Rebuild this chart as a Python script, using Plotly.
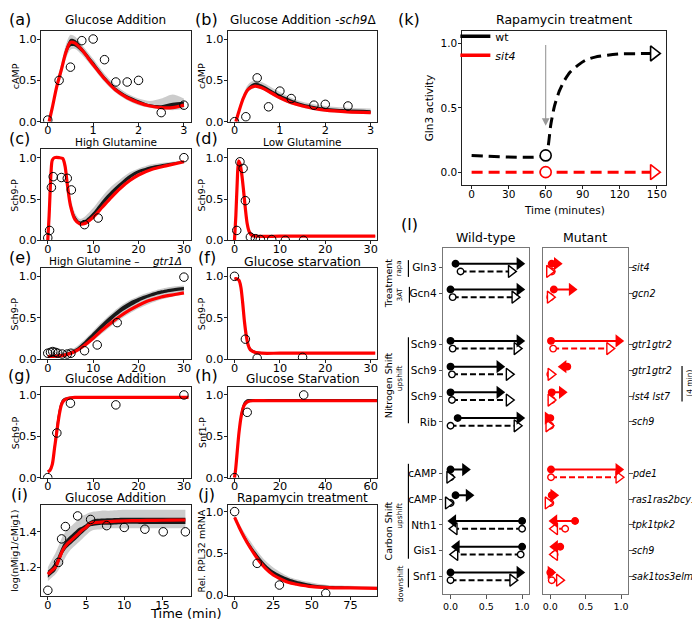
import plotly.graph_objects as go

W, H = 700, 622
FONT = "DejaVu Sans"
RED = "#ff0000"

# ---------------- data: left panels (a)-(j) ----------------
a_t = [0.03, 0.1, 0.2, 0.3, 0.4, 0.5, 0.6, 0.75, 1.0, 1.25, 1.5, 1.75, 2.0, 2.25, 2.5, 2.75, 3.0]
a_fit = [0.0, 0.17, 0.43, 0.63, 0.84, 0.96, 0.95, 0.87, 0.69, 0.52, 0.38, 0.29, 0.23, 0.19, 0.17, 0.17, 0.2]
a_lo = [0.0, 0.15, 0.4, 0.6, 0.8, 0.91, 0.91, 0.84, 0.67, 0.5, 0.37, 0.28, 0.22, 0.18, 0.16, 0.16, 0.18]
a_hi = [0.0, 0.19, 0.46, 0.67, 0.89, 1.0, 0.99, 0.9, 0.73, 0.55, 0.41, 0.32, 0.26, 0.21, 0.2, 0.23, 0.24]
a_lo2 = [0.0, 0.13, 0.37, 0.56, 0.76, 0.87, 0.88, 0.81, 0.65, 0.48, 0.35, 0.26, 0.2, 0.17, 0.15, 0.14, 0.15]
a_hi2 = [0.0, 0.21, 0.49, 0.71, 0.93, 1.05, 1.03, 0.93, 0.76, 0.58, 0.44, 0.34, 0.28, 0.25, 0.28, 0.33, 0.28]
a_obs_t = [0, 0.25, 0.5, 0.75, 1.0, 1.25, 1.5, 1.75, 2.0, 2.5, 3.0]
a_obs = [0.02, 0.5, 0.66, 0.98, 1.0, 0.75, 0.48, 0.48, 0.5, 0.11, 0.2]

b_t = [0.03, 0.1, 0.2, 0.3, 0.45, 0.6, 0.8, 1.0, 1.25, 1.5, 1.75, 2.0, 2.5, 3.0]
b_fit = [0.0, 0.13, 0.29, 0.39, 0.43, 0.41, 0.35, 0.29, 0.23, 0.19, 0.16, 0.14, 0.12, 0.11]
b_lo = [0.0, 0.12, 0.28, 0.38, 0.42, 0.4, 0.34, 0.28, 0.22, 0.18, 0.15, 0.13, 0.11, 0.1]
b_hi = [0.0, 0.15, 0.32, 0.42, 0.47, 0.45, 0.39, 0.33, 0.27, 0.22, 0.19, 0.17, 0.15, 0.14]
b_lo2 = [0.0, 0.11, 0.26, 0.36, 0.41, 0.39, 0.33, 0.27, 0.21, 0.17, 0.14, 0.12, 0.1, 0.09]
b_hi2 = [0.0, 0.17, 0.34, 0.45, 0.5, 0.48, 0.42, 0.36, 0.29, 0.24, 0.21, 0.19, 0.17, 0.16]
b_obs_t = [0, 0.25, 0.5, 0.75, 1.0, 1.25, 1.75, 2.0, 2.5]
b_obs = [0.0, 0.06, 0.53, 0.18, 0.37, 0.28, 0.2, 0.21, 0.19]

c_t = [0, 0.3, 0.7, 1.0, 1.5, 2.5, 3.3, 3.8, 4.3, 5.0, 6.0, 7.0, 8.0, 10, 12, 14, 16, 18, 20, 23, 26, 30]
c_fit = [0, 0.3, 0.8, 0.97, 1.0, 1.0, 0.99, 0.9, 0.68, 0.42, 0.25, 0.2, 0.2, 0.28, 0.4, 0.52, 0.63, 0.72, 0.79, 0.86, 0.9, 0.95]
c_lo = [0, 0.3, 0.8, 0.97, 1.0, 1.0, 0.99, 0.9, 0.7, 0.44, 0.26, 0.2, 0.2, 0.29, 0.42, 0.54, 0.65, 0.74, 0.81, 0.87, 0.91, 0.95]
c_hi = [0, 0.3, 0.8, 0.97, 1.0, 1.0, 0.99, 0.93, 0.74, 0.48, 0.3, 0.23, 0.24, 0.34, 0.48, 0.6, 0.7, 0.79, 0.85, 0.9, 0.93, 0.96]
c_lo2 = [0, 0.3, 0.8, 0.97, 1.0, 1.0, 0.99, 0.89, 0.68, 0.42, 0.25, 0.19, 0.19, 0.27, 0.4, 0.52, 0.63, 0.72, 0.79, 0.86, 0.9, 0.94]
c_hi2 = [0, 0.3, 0.8, 0.97, 1.0, 1.0, 0.99, 0.94, 0.77, 0.52, 0.33, 0.26, 0.28, 0.39, 0.53, 0.65, 0.74, 0.82, 0.87, 0.92, 0.94, 0.97]
c_obs_t = [0, 0.4, 0.8, 1.2, 3.0, 4.3, 5.2, 8.1, 11.1, 30]
c_obs = [0.03, 0.12, 0.64, 0.77, 0.76, 0.75, 0.61, 0.19, 0.27, 1.0]

d_t = [0, 0.3, 0.6, 0.9, 1.2, 1.6, 2.0, 2.4, 2.8, 3.2, 3.8, 5, 10, 20, 31]
d_fit = [0, 0.3, 0.7, 0.96, 0.93, 0.8, 0.6, 0.38, 0.2, 0.11, 0.06, 0.05, 0.05, 0.05, 0.05]
d_lo = [0, 0.29, 0.69, 0.95, 0.92, 0.79, 0.59, 0.37, 0.19, 0.1, 0.055, 0.045, 0.045, 0.045, 0.045]
d_hi = [0, 0.31, 0.72, 0.97, 0.95, 0.82, 0.63, 0.41, 0.23, 0.13, 0.07, 0.06, 0.06, 0.06, 0.06]
d_obs_t = [0.5, 1.2, 1.9, 2.4, 3.5, 4.6, 5.7, 8.2, 11.2, 15.2]
d_obs = [0.12, 0.95, 0.87, 0.48, 0.04, 0.02, 0.01, 0.01, 0.0, 0.0]

e_t = [0, 2, 4, 6, 8, 10, 12, 14, 16, 18, 20, 22, 25, 28, 30]
e_fit = [0.03, 0.035, 0.05, 0.09, 0.16, 0.25, 0.35, 0.44, 0.52, 0.59, 0.65, 0.7, 0.75, 0.78, 0.8]
e_lo = [0.03, 0.035, 0.05, 0.09, 0.17, 0.27, 0.37, 0.47, 0.56, 0.63, 0.69, 0.74, 0.79, 0.82, 0.83]
e_hi = [0.04, 0.05, 0.07, 0.12, 0.21, 0.32, 0.43, 0.53, 0.62, 0.69, 0.74, 0.78, 0.83, 0.86, 0.87]
e_lo2 = [0.03, 0.03, 0.04, 0.08, 0.14, 0.22, 0.31, 0.4, 0.48, 0.55, 0.61, 0.66, 0.72, 0.76, 0.78]
e_hi2 = [0.05, 0.06, 0.09, 0.14, 0.23, 0.34, 0.45, 0.55, 0.64, 0.71, 0.76, 0.8, 0.85, 0.88, 0.89]
e_obs_t = [0, 0.6, 1.1, 1.7, 2.2, 3.2, 4.3, 5.1, 8.1, 10.9, 15.3, 30]
e_obs = [0.07, 0.08, 0.09, 0.08, 0.07, 0.06, 0.06, 0.07, 0.1, 0.17, 0.44, 0.99]

f_t = [0, 0.5, 1.0, 1.4, 1.8, 2.2, 2.6, 3.0, 3.5, 4.5, 6, 10, 20, 31]
f_fit = [0.97, 0.97, 0.95, 0.87, 0.68, 0.45, 0.28, 0.17, 0.11, 0.08, 0.07, 0.07, 0.07, 0.07]
f_lo = [0.96, 0.96, 0.94, 0.86, 0.67, 0.44, 0.27, 0.16, 0.1, 0.075, 0.07, 0.07, 0.07, 0.07]
f_hi = [0.98, 0.98, 0.97, 0.9, 0.74, 0.52, 0.34, 0.22, 0.14, 0.1, 0.085, 0.08, 0.08, 0.08]
f_obs_t = [0, 2.4, 5.0, 15]
f_obs = [1.0, 0.24, 0.01, 0.02]

g_t = [0, 0.5, 1.0, 1.5, 2.0, 2.5, 3.0, 3.5, 4.5, 6, 10, 20, 31]
g_fit = [0.07, 0.09, 0.16, 0.36, 0.56, 0.75, 0.88, 0.93, 0.96, 0.97, 0.97, 0.97, 0.97]
g_lo = [0.07, 0.09, 0.17, 0.38, 0.6, 0.78, 0.9, 0.94, 0.96, 0.97, 0.97, 0.97, 0.97]
g_hi = [0.08, 0.11, 0.22, 0.46, 0.68, 0.84, 0.93, 0.96, 0.975, 0.98, 0.98, 0.98, 0.98]
g_obs_t = [0, 2, 5, 15, 30]
g_obs = [0.0, 0.54, 0.9, 0.88, 1.0]

h_t = [0, 0.5, 1, 2, 3, 4, 5, 6, 8, 15, 30, 45, 63]
h_fit = [0, 0.1, 0.25, 0.55, 0.75, 0.86, 0.9, 0.92, 0.93, 0.93, 0.93, 0.93, 0.93]
h_lo = [0, 0.1, 0.25, 0.55, 0.75, 0.86, 0.9, 0.92, 0.93, 0.93, 0.93, 0.93, 0.93]
h_hi = [0, 0.12, 0.3, 0.62, 0.82, 0.91, 0.94, 0.95, 0.95, 0.95, 0.95, 0.95, 0.95]
h_obs_t = [0, 5.6, 30.5]
h_obs = [0.0, 0.79, 1.0]

i_t = [0, 0.5, 1, 1.5, 2, 2.5, 3, 3.5, 4, 4.5, 5, 5.5, 6, 7, 8, 10, 12, 14, 16, 18]
i_fit = [1.16, 1.18, 1.2, 1.25, 1.3, 1.33, 1.35, 1.37, 1.39, 1.41, 1.425, 1.445, 1.452, 1.455, 1.458, 1.462, 1.464, 1.465, 1.466, 1.467]
i_lo = [1.14, 1.16, 1.18, 1.23, 1.28, 1.31, 1.33, 1.35, 1.37, 1.39, 1.41, 1.43, 1.435, 1.44, 1.44, 1.445, 1.445, 1.445, 1.445, 1.445]
i_hi = [1.18, 1.2, 1.23, 1.28, 1.33, 1.36, 1.38, 1.4, 1.42, 1.43, 1.445, 1.46, 1.47, 1.475, 1.477, 1.48, 1.48, 1.48, 1.48, 1.48]
i_lo2 = [1.12, 1.14, 1.16, 1.19, 1.23, 1.27, 1.3, 1.32, 1.34, 1.36, 1.38, 1.4, 1.41, 1.415, 1.42, 1.42, 1.42, 1.42, 1.42, 1.42]
i_hi2 = [1.2, 1.24, 1.28, 1.33, 1.38, 1.41, 1.43, 1.45, 1.47, 1.49, 1.5, 1.51, 1.515, 1.52, 1.52, 1.525, 1.525, 1.525, 1.525, 1.525]
i_obs_t = [0, 1.4, 1.8, 2.3, 3.9, 5.6, 7.7, 10.0, 12.7, 15.1, 18.0]
i_obs = [1.069, 1.227, 1.36, 1.43, 1.49, 1.47, 1.435, 1.425, 1.415, 1.40, 1.40]

j_t = [0, 3, 6, 10, 15, 20, 25, 30, 35, 40, 50, 60, 75, 93]
j_fit = [0.93, 0.81, 0.7, 0.57, 0.43, 0.32, 0.24, 0.19, 0.15, 0.13, 0.1, 0.09, 0.085, 0.08]
j_lo = [0.92, 0.8, 0.69, 0.56, 0.42, 0.32, 0.24, 0.19, 0.15, 0.13, 0.1, 0.09, 0.085, 0.08]
j_hi = [0.94, 0.83, 0.73, 0.61, 0.48, 0.37, 0.29, 0.24, 0.2, 0.17, 0.13, 0.11, 0.1, 0.095]
j_lo2 = [0.92, 0.79, 0.68, 0.55, 0.41, 0.31, 0.23, 0.18, 0.145, 0.125, 0.095, 0.085, 0.08, 0.075]
j_hi2 = [0.95, 0.85, 0.76, 0.65, 0.52, 0.41, 0.33, 0.27, 0.22, 0.19, 0.15, 0.12, 0.11, 0.1]
j_obs_t = [0, 14.6, 29, 59]
j_obs = [1.0, 0.38, 0.12, 0.02]

# ---------------- data: panel (k) ----------------
k_t = [0, 60, 62, 64, 67, 71, 75, 80, 86, 92, 100, 110, 120, 135, 150]
k_wt = [0.13, 0.13, 0.2, 0.36, 0.51, 0.63, 0.71, 0.78, 0.83, 0.87, 0.895, 0.91, 0.92, 0.922, 0.923]
k_sit4_t = [0, 60, 150]
k_sit4 = [0.0, 0.0, 0.0]
k_rapa_time = 60

# ---------------- data: panel (l) ----------------
group_sizes = [2, 4, 5]
wt_labels = ["Gln3", "Gcn4", "Sch9", "Sch9", "Sch9", "Rib", "cAMP", "cAMP", "Nth1", "Gis1", "Snf1"]
mut_labels = ["sit4", "gcn2", "gtr1gtr2", "gtr1gtr2", "lst4 lst7", "sch9",
              "pde1", "ras1ras2bcy1", "tpk1tpk2", "sch9", "sak1tos3elm1"]
wt_solid_start = [0.07, 0.0, 0.0, 0.0, 0.0, 0.1, 0.0, 0.07, 1.0, 1.0, 0.0]
wt_solid_end = [1.0, 1.0, 1.0, 0.72, 0.72, 1.0, 0.24, 0.29, 0.0, 0.05, 1.0]
wt_dash_start = [0.14, 0.03, 0.03, 0.02, 0.02, 0.0, 0.0, 0.0, 1.0, 0.98, 0.0]
wt_dash_end = [0.88, 0.93, 0.96, 0.85, 0.85, 0.96, 0.02, 0.0, 0.02, 0.03, 0.9]
mut_solid_start = [0.02, 0.05, 0.01, 0.24, 0.02, 0.0, 0.01, 0.02, 0.35, 0.14, 0.0]
mut_solid_end = [0.13, 0.34, 1.0, 0.15, 0.2, 0.0, 1.0, 0.08, 0.02, 0.03, 0.04]
mut_dash_start = [0.02, 0.0, 0.04, 0.0, 0.02, 0.0, 0.01, 0.0, 0.21, 0.06, 0.02]
mut_dash_end = [0.02, 0.03, 0.87, 0.04, 0.04, 0.01, 1.0, 0.0, 0.03, 0.03, 0.16]

# ---------------- figure ----------------
fig = go.Figure()
layout = {}


def nm(n, k):
    return k + ("" if n == 1 else str(n))


def xdom(l, r):
    return [l / W, r / W]


def ydom(t, b):
    return [1 - b / H, 1 - t / H]


def ann(text, px, py, size, xanchor="center", yanchor="middle", **kw):
    fig.add_annotation(x=px / W, y=1 - py / H, xref="paper", yref="paper", text=text,
                       showarrow=False, xanchor=xanchor, yanchor=yanchor,
                       font=dict(size=size, family=FONT, color="black"), **kw)


axis_common = dict(showgrid=False, zeroline=False, showline=True, mirror=True, linecolor="#222",
                   linewidth=0.9, ticks="outside", ticklen=3, tickwidth=0.9, tickcolor="#222",
                   tickfont=dict(size=11.3, family=FONT, color="black"))

NB = "\u00a0"
left = [
    dict(t=a_t, fit=a_fit, lo=a_lo, hi=a_hi, lo2=a_lo2, hi2=a_hi2, ot=a_obs_t, ob=a_obs,
         xr=[-0.15, 3.15], yr=[0, 1.1], xt=[0, 1, 2, 3], yt=[0, 0.5, 1.0],
         title="Glucose Addition", ts=12, tpy=12, lab="(a)", ylab="cAMP"),
    dict(t=b_t, fit=b_fit, lo=b_lo, hi=b_hi, lo2=b_lo2, hi2=b_hi2, ot=b_obs_t, ob=b_obs,
         xr=[-0.15, 3.15], yr=[0, 1.1], xt=[0, 1, 2, 3], yt=[0, 0.5, 1.0],
         title="Glucose Addition -<i>sch9</i>Δ", ts=12, tpy=12, lab="(b)", ylab="cAMP"),
    dict(t=c_t, fit=c_fit, lo=c_lo, hi=c_hi, lo2=c_lo2, hi2=c_hi2, ot=c_obs_t, ob=c_obs,
         xr=[-1.5, 31.5], yr=[0, 1.1], xt=[0, 10, 20, 30], yt=[0, 0.5, 1.0],
         title="High Glutamine", ts=10.5, tpy=136, lab="(c)", ylab="Sch9-P"),
    dict(t=d_t, fit=d_fit, lo=d_lo, hi=d_hi, lo2=None, hi2=None, ot=d_obs_t, ob=d_obs,
         xr=[-1.5, 31.5], yr=[0, 1.1], xt=[0, 10, 20, 30], yt=[0, 0.5, 1.0],
         title="Low Glutamine", ts=10.5, tpy=136, lab="(d)", ylab="Sch9-P"),
    dict(t=e_t, fit=e_fit, lo=e_lo, hi=e_hi, lo2=e_lo2, hi2=e_hi2, ot=e_obs_t, ob=e_obs,
         xr=[-1.5, 31.5], yr=[0, 1.1], xt=[0, 10, 20, 30], yt=[0, 0.5, 1.0],
         title="High Glutamine –" + NB * 4 + "<i>gtr1Δ</i>", ts=10.5, tpy=256, lab="(e)", ylab="Sch9-P"),
    dict(t=f_t, fit=f_fit, lo=f_lo, hi=f_hi, lo2=None, hi2=None, ot=f_obs_t, ob=f_obs,
         xr=[-1.5, 31.5], yr=[0, 1.1], xt=[0, 10, 20, 30], yt=[0, 0.5, 1.0],
         title="Glucose starvation", ts=12.5, tpy=256, lab="(f)", ylab="Sch9-P"),
    dict(t=g_t, fit=g_fit, lo=g_lo, hi=g_hi, lo2=None, hi2=None, ot=g_obs_t, ob=g_obs,
         xr=[-1.5, 31.5], yr=[0, 1.1], xt=[0, 10, 20, 30], yt=[0, 0.5, 1.0],
         title="Glucose Addition", ts=12, tpy=375, lab="(g)", ylab="Sch9-P"),
    dict(t=h_t, fit=h_fit, lo=h_lo, hi=h_hi, lo2=None, hi2=None, ot=h_obs_t, ob=h_obs,
         xr=[-3, 63], yr=[0, 1.1], xt=[0, 20, 40, 60], yt=[0, 0.5, 1.0],
         title="Glucose Starvation", ts=12, tpy=375, lab="(h)", ylab="Snf1-P"),
    dict(t=i_t, fit=i_fit, lo=i_lo, hi=i_hi, lo2=i_lo2, hi2=i_hi2, ot=i_obs_t, ob=i_obs,
         xr=[-0.9, 18.7], yr=[1.035, 1.55], xt=[0, 5, 10, 15], yt=[1.2, 1.4],
         title="Glucose Addition", ts=12, tpy=496, lab="(i)", ylab="log(nMig1/cMig1)"),
    dict(t=j_t, fit=j_fit, lo=j_lo, hi=j_hi, lo2=j_lo2, hi2=j_hi2, ot=j_obs_t, ob=j_obs,
         xr=[-4.5, 92.5], yr=[-0.015, 1.075], xt=[0, 25, 50, 75], yt=[0, 0.5, 1.0],
         title="Rapamycin treatment", ts=12, tpy=496, lab="(j)", ylab="Rel. RPL32 mRNA"),
]

col_x = [(33, 183), (220, 370)]
for idx, p in enumerate(left):
    n = idx + 1
    col, row = idx % 2, idx // 2
    top = 23 + 120 * row
    xa, ya = nm(n, "x"), nm(n, "y")
    layout[nm(n, "xaxis")] = dict(axis_common, domain=xdom(*col_x[col]), anchor=ya, range=p["xr"],
                                  tickvals=p["xt"], ticklabelstandoff=-5)
    layout[nm(n, "yaxis")] = dict(axis_common, domain=ydom(top, top + 92), anchor=xa, range=p["yr"],
                                  tickvals=p["yt"], tickformat=".1f", ticklabelstandoff=-2)

    def band(lo, hi, color):
        fig.add_trace(go.Scatter(x=p["t"], y=lo, xaxis=xa, yaxis=ya, mode="lines",
                                 line=dict(width=0, shape="spline", smoothing=0.8),
                                 showlegend=False, hoverinfo="skip"))
        fig.add_trace(go.Scatter(x=p["t"], y=hi, xaxis=xa, yaxis=ya, mode="lines", fill="tonexty",
                                 fillcolor=color, line=dict(width=0, shape="spline", smoothing=0.8),
                                 showlegend=False, hoverinfo="skip"))

    if p["lo2"] is not None:
        band(p["lo2"], p["hi2"], "rgba(0,0,0,0.2)")
    band(p["lo"], p["hi"], "rgba(0,0,0,0.88)")
    fig.add_trace(go.Scatter(x=p["t"], y=p["fit"], xaxis=xa, yaxis=ya, mode="lines",
                             line=dict(color=RED, width=3.2, shape="spline", smoothing=0.8),
                             showlegend=False, hoverinfo="skip"))
    fig.add_trace(go.Scatter(x=p["ot"], y=p["ob"], xaxis=xa, yaxis=ya, mode="markers",
                             marker=dict(symbol="circle-open", size=8.5, color="black",
                                         line=dict(width=1, color="black")),
                             showlegend=False, hoverinfo="skip"))
    cx = (col_x[col][0] + col_x[col][1]) / 2
    ann(p["title"], cx, p["tpy"], p["ts"])
    ann(p["lab"], 12 if col == 0 else 199, top - 11, 16)
    ann(p["ylab"], 7 if col == 0 else 194, top + 46, 9.5, textangle=-90)

ann("Time (min)", 178, 612, 13)

# ---------------- panel (k) ----------------
nk = 11
xk, yk = nm(nk, "x"), nm(nk, "y")
k_axis = dict(axis_common, tickfont=dict(size=10.5, family=FONT, color="black"))
layout[nm(nk, "xaxis")] = dict(k_axis, domain=xdom(455, 659), anchor=yk, range=[-7.5, 157.5],
                               tickvals=[0, 30, 60, 90, 120, 150], ticklabelstandoff=-4)
layout[nm(nk, "yaxis")] = dict(k_axis, domain=ydom(23, 179), anchor=xk, range=[-0.1, 1.1],
                               tickvals=[0, 0.5, 1.0], tickformat=".1f", ticklabelstandoff=-1)
kdash = "11px,6px"
fig.add_trace(go.Scatter(x=k_t, y=k_wt, xaxis=xk, yaxis=yk, mode="lines",
                         line=dict(color="black", width=3, dash=kdash, shape="spline", smoothing=0.6),
                         showlegend=False, hoverinfo="skip"))
fig.add_trace(go.Scatter(x=k_sit4_t, y=k_sit4, xaxis=xk, yaxis=yk, mode="lines",
                         line=dict(color=RED, width=3, dash=kdash), showlegend=False, hoverinfo="skip"))
i60 = k_t.index(k_rapa_time)
j60 = k_sit4_t.index(k_rapa_time)
k_px_per = 204 / 165.0
tri_size_k = 13
shift_k = 0.457 * tri_size_k / 2 / k_px_per
for xs, ys, col in [([k_t[i60]], [k_wt[i60]], "black"), ([k_sit4_t[j60]], [k_sit4[j60]], RED)]:
    fig.add_trace(go.Scatter(x=xs, y=ys, xaxis=xk, yaxis=yk, mode="markers",
                             marker=dict(symbol="circle", size=11, color="white", line=dict(width=1.6, color=col)),
                             showlegend=False, hoverinfo="skip"))
for xs, ys, col in [([k_t[-1] - shift_k], [k_wt[-1]], "black"), ([k_sit4_t[-1] - shift_k], [k_sit4[-1]], RED)]:
    fig.add_trace(go.Scatter(x=xs, y=ys, xaxis=xk, yaxis=yk, mode="markers",
                             marker=dict(symbol="triangle-right", size=tri_size_k, color="white",
                                         line=dict(width=1.6, color=col)),
                             showlegend=False, hoverinfo="skip"))
fig.add_trace(go.Scatter(x=[None], y=[None], xaxis=xk, yaxis=yk, mode="lines", name="wt",
                         line=dict(color="black", width=3.5)))
fig.add_trace(go.Scatter(x=[None], y=[None], xaxis=xk, yaxis=yk, mode="lines", name="<i>sit4</i>",
                         line=dict(color=RED, width=3.5)))
fig.add_annotation(x=k_rapa_time, y=0.36, ax=k_rapa_time, ay=1.0, xref=xk, yref=yk, axref=xk, ayref=yk,
                   showarrow=True, arrowhead=2, arrowsize=1.4, arrowwidth=1.1, arrowcolor="#999999", text="")
ann("Rapamycin treatment", 557, 12, 12.5)
ann("(k)", 402, 12, 16)
ann("Time (minutes)", 557, 204, 10.5)
ann("Gln3 activity", 421, 101, 10.5, textangle=-90)

# ---------------- panel (l) ----------------
rows = []
r = 0
for gsz in group_sizes:
    for _ in range(gsz):
        rows.append(r)
        r += 1
    r += 1

l_axis = dict(showgrid=False, zeroline=False, showline=True, mirror=True, linecolor="#777",
              linewidth=1.3, ticks="outside", ticklen=3.5, tickwidth=1, tickcolor="#555",
              tickfont=dict(size=9.5, family=FONT, color="black"))
y_range = [12.7, -0.75]
for n, (l, rr), side, show in [(12, (436, 522), "left", True), (13, (536, 621), "right", False)]:
    layout[nm(n, "xaxis")] = dict(l_axis, domain=xdom(l, rr), anchor=nm(n, "y"), range=[-0.1, 1.1],
                                  tickvals=[0, 0.5, 1.0], tickformat=".1f")
    layout[nm(n, "yaxis")] = dict(l_axis, domain=ydom(243, 593), anchor=nm(n, "x"), range=y_range,
                                  tickvals=rows, ticktext=wt_labels, side=side, showticklabels=show,
                                  tickfont=dict(size=10.5, family=FONT, color="black"))
for lab, rw in zip(mut_labels, rows):
    fig.add_annotation(x=624 / W, xref="paper", y=rw, yref="y13", text="<i>%s</i>" % lab,
                       showarrow=False, xanchor="left", yanchor="middle", borderpad=0,
                       font=dict(size=9.6, family=FONT, color="black"))

l_px_per = 86 / 1.2
OFF = 0.15


def arrows(n, starts, ends, offset, color, dashed, head_size):
    xa, ya = nm(n, "x"), nm(n, "y")
    ys = [rw + offset for rw in rows]
    for s, e, y in zip(starts, ends, ys):
        fig.add_trace(go.Scatter(x=[s, e], y=[y, y], xaxis=xa, yaxis=ya, mode="lines",
                                 line=dict(color=color, width=2, dash="6px,3px" if dashed else "solid"),
                                 showlegend=False, hoverinfo="skip"))
    fig.add_trace(go.Scatter(x=starts, y=ys, xaxis=xa, yaxis=ya, mode="markers",
                             marker=dict(symbol="circle", size=6.5, color="white" if dashed else color,
                                         line=dict(width=1.4, color=color)),
                             showlegend=False, hoverinfo="skip"))
    shift = 0.457 * head_size / 2 / l_px_per
    hx, syms = [], []
    for s, e in zip(starts, ends):
        d = 1 if e >= s else -1
        hx.append(e - d * shift)
        syms.append("triangle-right" if d > 0 else "triangle-left")
    fig.add_trace(go.Scatter(x=hx, y=ys, xaxis=xa, yaxis=ya, mode="markers",
                             marker=dict(symbol=syms, size=head_size, color="white" if dashed else color,
                                         line=dict(width=1.4 if dashed else 0, color=color)),
                             showlegend=False, hoverinfo="skip"))


arrows(12, wt_dash_start, wt_dash_end, OFF, "black", True, 10.5)
arrows(12, wt_solid_start, wt_solid_end, -OFF, "black", False, 11.5)
arrows(13, mut_dash_start, mut_dash_end, OFF, RED, True, 10.5)
arrows(13, mut_solid_start, mut_solid_end, -OFF, RED, False, 11.5)

ann("(l)", 402, 219, 16)
ann("Wild-type", 479, 232, 12.5)
ann("Mutant", 578, 232, 12.5)
ann("Treatment", 381, 278, 9.5, textangle=-90)
ann("rapa", 392, 263, 7, textangle=-90)
ann("3AT", 392, 289, 7, textangle=-90)
ann("Nitrogen Shift", 381, 381, 9.5, textangle=-90)
ann("upshift", 392, 374, 7.5, textangle=-90)
ann("Carbon Shift", 381, 529, 9.5, textangle=-90)
ann("upshift", 392, 513, 7.5, textangle=-90)
ann("downshift", 393, 582, 7.5, textangle=-90)
ann("(4 min)", 683, 380, 7.5, textangle=-90)

shapes = []
for x0, y0, y1 in [(401, 255, 272), (402, 282, 298), (401, 333, 420), (401, 461, 557),
                   (401, 567, 586), (675, 362, 398)]:
    shapes.append(dict(type="line", xref="paper", yref="paper", x0=x0 / W, x1=x0 / W,
                       y0=1 - y0 / H, y1=1 - y1 / H, line=dict(color="black", width=1.2)))

layout.update(dict(
    width=W, height=H, margin=dict(l=0, r=0, t=0, b=0),
    paper_bgcolor="white", plot_bgcolor="white",
    font=dict(family=FONT, color="black"),
    showlegend=True,
    legend=dict(x=448 / W, y=1 - 14 / H, xanchor="left", yanchor="top", bgcolor="rgba(0,0,0,0)",
                font=dict(size=11, family=FONT), tracegroupgap=0, itemwidth=30, traceorder="normal"),
    shapes=shapes,
))
fig.update_layout(**layout)
fig.write_html("out.html")
